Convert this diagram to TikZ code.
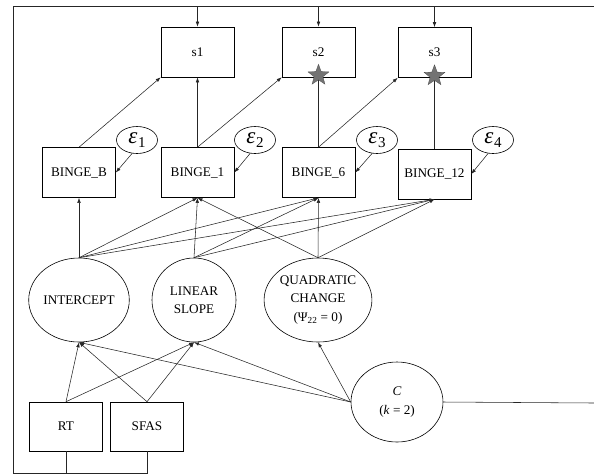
\documentclass[tikz,border=0pt]{standalone}
\usepackage{fontspec}
\setmainfont{Liberation Serif}
\usetikzlibrary{arrows.meta,shapes.geometric}
% residual label: italic epsilon with an upright lowered index
\newcommand{\resid}[1]{\textit{ε}\kern0.5pt\raisebox{-3.5pt}{\fontsize{15}{15}\selectfont #1}}
\begin{document}
\begin{tikzpicture}[x=1pt,y=-1pt,
  every node/.style={font=\fontsize{13.2}{18.5}\selectfont, align=center},
  box/.style={draw, line width=0.6pt, minimum width=73pt, minimum height=50pt, inner sep=0pt},
  latent/.style={draw, ellipse, line width=0.6pt, minimum width=#1, minimum height=84pt, inner sep=0pt},
  errv/.style={draw, ellipse, line width=0.6pt, minimum width=41pt, minimum height=27pt, inner sep=0pt,
               font=\fontsize{23}{24}\selectfont},
  link/.style={line width=0.55pt, draw=black!85},
  arr/.style={link, -{Latex[length=5pt,width=3.6pt]}},
  mark5/.style={star, star points=5, star point ratio=2.4, fill=black!55, draw=black!70,
                line width=0.3pt, minimum size=22pt, inner sep=0pt}
]
\useasboundingbox (0,0) rectangle (594,475);

% class outcome boxes
\node[box] (s1) at (197.5,52) {s1};
\node[box] (s2) at (318.5,52) {s2};
\node[box] (s3) at (434.5,52.5) {s3};

% repeated binge measures
\node[box] (bb)  at (79,172.5)   {BINGE\_B};
\node[box] (b1)  at (197.5,172.5) {BINGE\_1};
\node[box] (b6)  at (318.5,172.5) {BINGE\_6};
\node[box] (b12) at (434.5,174)   {BINGE\_12};

% residuals
\node[errv] (e1) at (137,140) {\resid{1}};
\node[errv] (e2) at (255,140) {\resid{2}};
\node[errv] (e3) at (377,140) {\resid{3}};
\node[errv] (e4) at (493,140) {\resid{4}};

% growth factors
\node[latent=88pt] (int)  at (79,300)  {INTERCEPT};
\node[latent=84pt] (slp)  at (194,300) {LINEAR\\SLOPE};
\node[latent=91pt] (quad) at (318,300) {QUADRATIC\\CHANGE\\(Ψ\textsubscript{22} = 0)};

% covariates and latent class
\node[box, minimum height=49pt] (rt)   at (66,426.5)  {RT};
\node[box, minimum height=49pt] (sfas) at (147,426.5) {SFAS};
\node[latent=92pt, minimum height=80pt] (cls) at (397,402) {\textit{C}\\(\textit{k} = 2)};

% frame linking covariates and class to the outcomes
\coordinate (bl) at (13,473);
\coordinate (tl) at (13,6);
\coordinate (tr) at (594,6);
\coordinate (cr) at (594,403);
\draw[link] (rt.south) -- (rt.south |- bl);
\draw[link] (sfas.south) -- (sfas.south |- bl) -- (bl) -- (tl) -- (tr);
\draw[link] (cls.east) -- (cr);
\draw[arr] (s1.north |- tl) -- (s1.north);
\draw[arr] (s2.north |- tl) -- (s2.north);
\draw[arr] (s3.north |- tl) -- (s3.north);

% measures to outcomes
\draw[arr] (bb.north) -- (s1.south west);
\draw[arr] (b1.north) -- (s1.south);
\draw[arr] (b1.north) -- (s2.south west);
\draw[link] (b6.north) -- (s2.south);
\draw[arr] (b6.north) -- (s3.south west);
\draw[link] (b12.north) -- (s3.south);
\node[mark5] (st2) at ([yshift=2pt]s2.south) {};
\node[mark5] (st3) at ([yshift=2pt]s3.south) {};

% residual paths
\draw[arr] (e1.250) -- (bb.east);
\draw[arr] (e2.250) -- (b1.east);
\draw[arr] (e3.250) -- (b6.east);
\draw[arr] (e4.250) -- (b12.east);

% factor loadings
\draw[arr] (int.north) -- (bb.south);
\draw[arr] (int.north) -- (b1.south);
\draw[arr] (int.north) -- (b6.south);
\draw[arr] (int.north) -- (b12.south);
\draw[arr] (slp.north) -- (b1.south);
\draw[arr] (slp.north) -- (b6.south);
\draw[arr] (slp.north) -- (b12.south);
\draw[arr] (quad.north) -- (b1.south);
\draw[arr] (quad.north) -- (b6.south);
\draw[arr] (quad.north) -- (b12.south);

% covariate and class effects on growth factors
\draw[arr] (rt.north) -- (int.south);
\draw[arr] (rt.north) -- (slp.south);
\draw[arr] (sfas.north) -- (int.south);
\draw[arr] (sfas.north) -- (slp.south);
\draw[arr] (cls.west) -- (int.south);
\draw[arr] (cls.west) -- (slp.south);
\draw[arr] (cls.west) -- (quad.south);
\end{tikzpicture}
\end{document}
